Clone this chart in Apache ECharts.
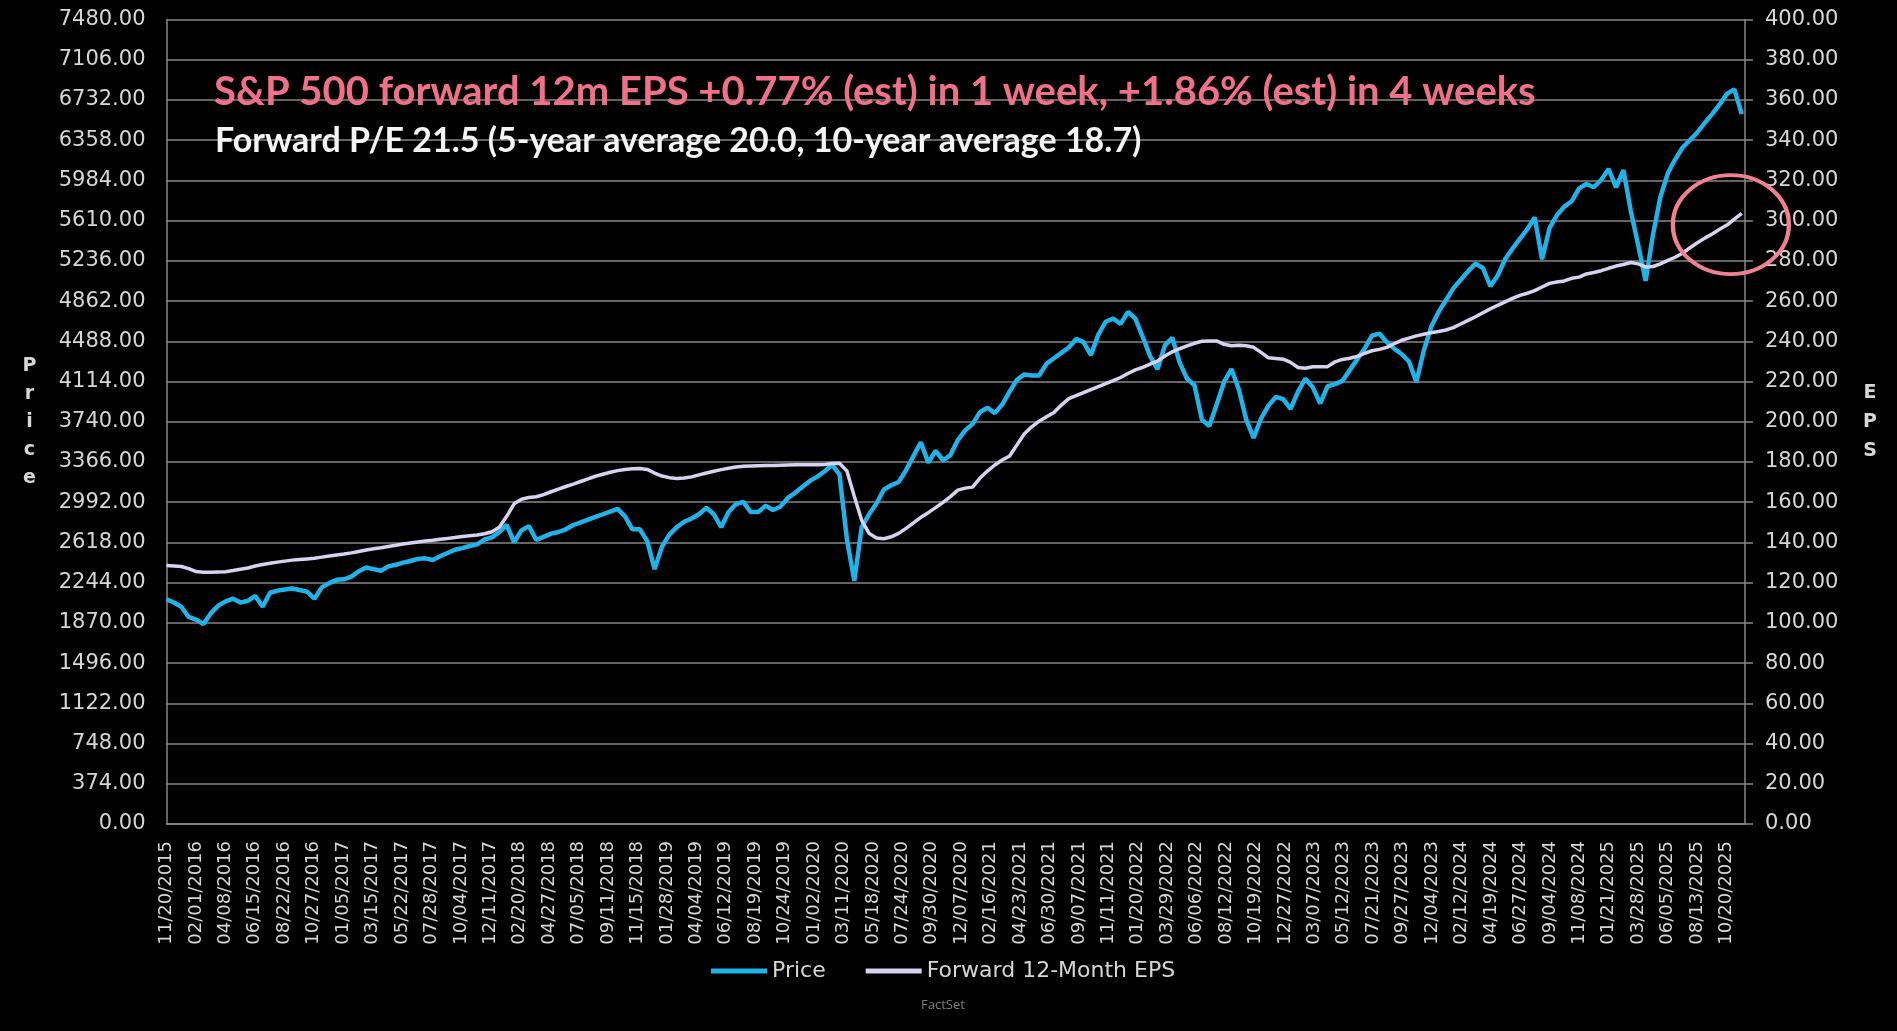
<!DOCTYPE html>
<html>
<head>
<meta charset="utf-8">
<script src="https://cdn.jsdelivr.net/npm/echarts@6/dist/echarts.min.js"></script>
<style>
html,body{margin:0;padding:0;background:#000;}
#chart{width:1897px;height:1031px;}
</style>
</head>
<body>
<div id="chart"></div>
<script>
// ---- x-axis tick labels (one per label interval) ----
const dateLabels = [
  "11/20/2015","02/01/2016","04/08/2016","06/15/2016","08/22/2016","10/27/2016",
  "01/05/2017","03/15/2017","05/22/2017","07/28/2017","10/04/2017","12/11/2017",
  "02/20/2018","04/27/2018","07/05/2018","09/11/2018","11/15/2018",
  "01/28/2019","04/04/2019","06/12/2019","08/19/2019","10/24/2019",
  "01/02/2020","03/11/2020","05/18/2020","07/24/2020","09/30/2020","12/07/2020",
  "02/16/2021","04/23/2021","06/30/2021","09/07/2021","11/11/2021",
  "01/20/2022","03/29/2022","06/06/2022","08/12/2022","10/19/2022","12/27/2022",
  "03/07/2023","05/12/2023","07/21/2023","09/27/2023","12/04/2023",
  "02/12/2024","04/19/2024","06/27/2024","09/04/2024","11/08/2024",
  "01/21/2025","03/28/2025","06/05/2025","08/13/2025","10/20/2025"
];

// position of the last observation, in label-interval units (0 = 11/20/2015)
const lastObsPos = 53.52;

// ---- S&P 500 price (left axis), evenly spaced observations ----
const priceValues = [
  2090,2060,2020,1925,1900,1860,1960,2030,2070,2095,2060,2075,2120,2020,2150,2170,
  2180,2190,2175,2160,2095,2200,2240,2270,2275,2300,2350,2385,2370,2355,2395,2410,
  2430,2445,2465,2470,2455,2490,2520,2550,2565,2585,2600,2645,2665,2715,2780,2620,
  2730,2770,2640,2670,2700,2715,2740,2780,2805,2830,2855,2880,2905,2930,2860,2740,
  2740,2630,2370,2580,2690,2760,2810,2840,2880,2940,2880,2760,2900,2975,2995,2900,
  2900,2960,2920,2950,3030,3080,3135,3190,3230,3280,3340,3250,2650,2260,2760,2880,
  2980,3110,3150,3180,3290,3420,3550,3360,3470,3380,3430,3570,3660,3720,3830,3870,
  3820,3900,4020,4130,4180,4170,4170,4280,4330,4380,4430,4510,4480,4360,4550,4670,
  4700,4650,4760,4700,4530,4350,4230,4450,4520,4290,4140,4080,3760,3700,3900,4110,
  4230,4040,3760,3590,3770,3890,3970,3950,3860,4020,4140,4060,3910,4070,4090,4120,
  4220,4320,4420,4540,4560,4480,4420,4370,4300,4110,4400,4620,4760,4870,4980,5060,
  5140,5210,5170,5000,5100,5250,5350,5440,5530,5640,5250,5540,5660,5740,5790,5910,
  5950,5920,5990,6090,5920,6080,5700,5380,5050,5480,5830,6050,6180,6290,6360,6430,
  6520,6600,6690,6790,6830,6600
];

// ---- Forward 12-month EPS (right axis), same observation dates ----
const epsValues = [
  128.5,128.3,128,127,125.5,125.2,125.2,125.3,125.4,126,126.7,127.3,128.3,129,129.6,130.2,
  130.7,131.2,131.5,131.8,132.1,132.7,133.3,133.8,134.2,134.8,135.5,136.2,136.9,137.4,138,138.6,
  139.2,139.7,140.2,140.7,141.1,141.6,142,142.4,142.9,143.3,143.7,144.3,145.3,147.5,153,159.2,
  161.5,162.3,162.7,163.8,165.2,166.5,167.8,169,170.3,171.6,172.9,173.9,174.9,175.7,176.3,176.6,
  176.7,176.3,174.5,173,172.2,171.8,172,172.6,173.6,174.5,175.4,176.2,176.9,177.5,177.9,178,
  178.1,178.2,178.3,178.4,178.5,178.6,178.6,178.6,178.6,178.8,179.2,179.4,175.5,163,151,144.5,
  142.2,141.8,142.8,144.5,147,149.7,152.5,154.8,157.3,159.9,162.8,166,167,167.5,172,175.5,
  178.5,181,183,188.5,194,197.5,200.3,202.5,204.6,208.3,211.5,213,214.5,216,217.5,219,
  220.4,222,224,225.8,227,228.6,230.2,232.7,234.8,236.3,237.7,239,240,240.2,240.2,238.5,
  237.8,238,237.8,237,234.5,231.8,231.5,231.1,229.5,227,226.6,227.3,227.4,227.4,229.8,231,
  231.6,232.5,234,235.3,236,237,238.8,240.5,241.6,242.7,243.5,244.3,244.9,245.6,246.8,248.6,
  250.4,252.2,254.2,256.1,257.9,259.6,261.3,262.8,263.9,265.2,267,268.8,269.5,270,271.3,271.9,
  273.5,274.2,275.1,276.3,277.4,278.2,279.2,278.5,277,277.2,278.5,280.2,281.8,283.8,286.5,289,
  291.3,293.4,295.7,297.8,300.7,303.6
];

// highlighted area (data coordinates: label-interval position, EPS)
const highlightAt = [53.15, 298];

const seriesNames = ["Price", "Forward 12-Month EPS"];
const titleLine1 = "S&P 500 forward 12m EPS +0.77% (est) in 1 week, +1.86% (est) in 4 weeks";
const titleLine2 = "Forward P/E 21.5 (5-year average 20.0, 10-year average 18.7)";
const sourceText = "FactSet";

function toPairs(values) {
  const n = values.length;
  return values.map((v, i) => [i * lastObsPos / (n - 1), v]);
}

const GRID_COLOR = '#868686';
const LABEL_COLOR = '#d6d6d6';
const PRICE_COLOR = '#1fb3ea';
const EPS_COLOR = '#d6d2ef';

const chart = echarts.init(document.getElementById('chart'), null, {renderer: 'canvas'});
chart.setOption({
  backgroundColor: '#000000',
  animation: false,
  title: [
    {text: titleLine1, left: 214, top: 72, padding: 0,
     textStyle: {color: '#f07088', fontFamily: 'Lato', fontWeight: 'bold', fontSize: 40}},
    {text: titleLine2, left: 215, top: 124, padding: 0,
     textStyle: {color: '#f4f4f4', fontFamily: 'Lato', fontWeight: 'bold', fontSize: 34}}
  ],
  grid: {left: 166.5, right: 152, top: 19.5, bottom: 207, outerBoundsMode: 'none'},
  legend: {
    data: seriesNames,
    left: 711, top: 960, padding: 0,
    icon: 'rect', itemWidth: 56, itemHeight: 5, itemGap: 40,
    textStyle: {color: LABEL_COLOR, fontFamily: 'DejaVu Sans', fontSize: 22}
  },
  xAxis: {
    type: 'value', min: 0, max: 53.63, interval: 1,
    axisLine: {show: true, lineStyle: {color: GRID_COLOR, width: 1.5}},
    axisTick: {show: false},
    splitLine: {show: false},
    axisLabel: {
      rotate: 90, margin: 17, color: LABEL_COLOR, fontFamily: 'DejaVu Sans', fontSize: 18,
      showMinLabel: true, showMaxLabel: true,
      formatter: function (v) {
        const r = Math.round(v);
        return (Math.abs(v - r) < 1e-6 && dateLabels[r]) ? dateLabels[r] : '';
      }
    }
  },
  yAxis: [
    {
      type: 'value', position: 'left', min: 0, max: 7480, interval: 374,
      name: 'Price'.split('').join('\n'), nameLocation: 'middle', nameRotate: 0, nameGap: 137,
      nameTextStyle: {color: LABEL_COLOR, fontFamily: 'DejaVu Sans', fontWeight: 'bold', fontSize: 19,
                      lineHeight: 28, align: 'center', verticalAlign: 'middle'},
      axisLine: {show: true, lineStyle: {color: GRID_COLOR, width: 1.5}},
      axisTick: {show: false},
      splitLine: {show: true, lineStyle: {color: GRID_COLOR, width: 1.5}},
      axisLabel: {margin: 21, color: LABEL_COLOR, fontFamily: 'DejaVu Sans', fontSize: 21,
                  formatter: v => v.toFixed(2)}
    },
    {
      type: 'value', position: 'right', min: 0, max: 400, interval: 20,
      name: 'EPS'.split('').join('\n'), nameLocation: 'middle', nameRotate: 0, nameGap: 125,
      nameTextStyle: {color: LABEL_COLOR, fontFamily: 'DejaVu Sans', fontWeight: 'bold', fontSize: 19,
                      lineHeight: 29, align: 'center', verticalAlign: 'middle'},
      axisLine: {show: true, lineStyle: {color: GRID_COLOR, width: 1.5}},
      axisTick: {show: true, length: 8, lineStyle: {color: GRID_COLOR, width: 1.5}},
      splitLine: {show: false},
      axisLabel: {margin: 20, color: LABEL_COLOR, fontFamily: 'DejaVu Sans', fontSize: 21,
                  formatter: v => v.toFixed(2)}
    }
  ],
  series: [
    {
      name: seriesNames[0], type: 'line', yAxisIndex: 0, data: toPairs(priceValues),
      symbol: 'none', color: PRICE_COLOR,
      lineStyle: {color: PRICE_COLOR, width: 4.5}
    },
    {
      name: seriesNames[1], type: 'line', yAxisIndex: 1, data: toPairs(epsValues),
      symbol: 'none', color: EPS_COLOR,
      lineStyle: {color: EPS_COLOR, width: 3.5},
      markPoint: {
        silent: true,
        symbol: 'circle', symbolSize: [116, 99],
        itemStyle: {color: 'rgba(0,0,0,0)', borderColor: '#f27f92', borderWidth: 4},
        label: {show: false},
        data: [{coord: highlightAt}]
      }
    }
  ],
  graphic: [
    {type: 'text', left: 921, top: 999,
     style: {text: sourceText, fill: '#7d7d7d', font: '13px "Open Sans"'}}
  ]
});
</script>
</body>
</html>
